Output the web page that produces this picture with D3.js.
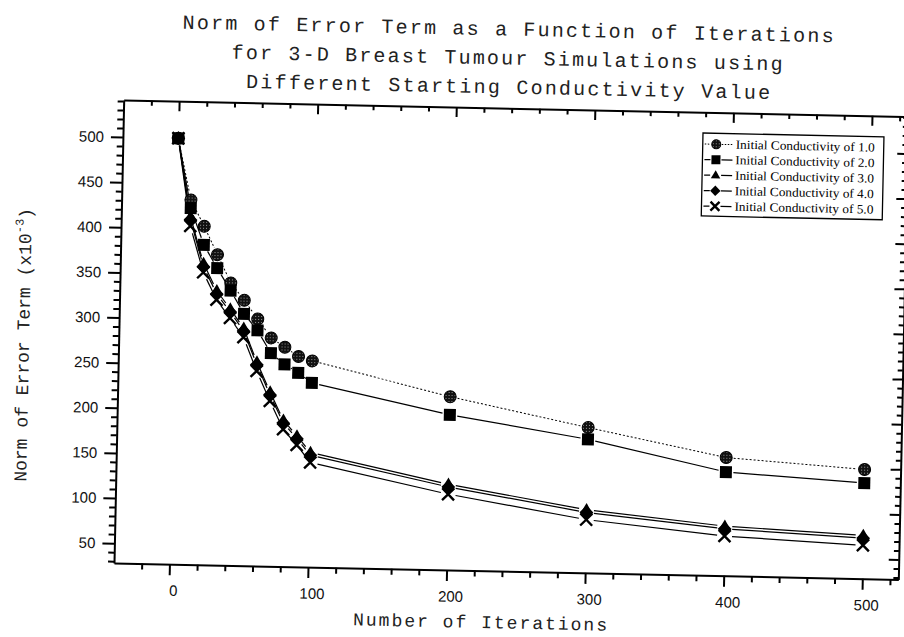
<!DOCTYPE html>
<html><head><meta charset="utf-8">
<script src="https://cdn.jsdelivr.net/npm/d3@7"></script>
<style>body{margin:0;background:#fff}svg{display:block}</style>
</head><body>
<svg id="c" width="904" height="637"></svg>
<script>
// ---------------- data ----------------
const iterations = [0, 10, 20, 30, 40, 50, 60, 70, 80, 90, 100, 200, 300, 400, 500];
const cond1 = [500, 432, 403, 372, 341, 322, 301.5, 281, 271, 261, 256.5, 220, 189, 159, 149];
const cond2 = [500, 423, 382.5, 357, 332.5, 307, 289, 264, 252, 243, 232, 200, 176, 143, 134];
const cond3 = [500, 413, 362, 332, 312, 291, 254, 221, 190, 173, 155, 123, 98, 83, 76];
const cond4 = [500, 410, 358.5, 328.5, 309, 288, 251, 218, 187, 170, 152, 120, 95, 80, 73];
const cond5 = [500, 403, 352, 322, 302, 281, 244, 211, 180, 163, 144, 112, 87, 72, 65];
const seriesNames = ["Initial Conductivity of 1.0", "Initial Conductivity of 2.0",
  "Initial Conductivity of 3.0", "Initial Conductivity of 4.0", "Initial Conductivity of 5.0"];
const seriesValues = [cond1, cond2, cond3, cond4, cond5];
const seriesSymbols = ["circle", "square", "triangle", "diamond", "cross"];
const xMajorTicks = [0, 100, 200, 300, 400, 500];
const yMajorTicks = [50, 100, 150, 200, 250, 300, 350, 400, 450, 500];
const titleLines = ["Norm of Error Term as a Function of Iterations",
  "for 3-D Breast Tumour Simulations using",
  "Different Starting Conductivity Value"];
const xTitle = "Number of Iterations";
const yTitleMain = "Norm of Error Term (x10";
const yTitleSup = "-3";
const yTitleEnd = ")";

// ---------------- layout ----------------
const P = {left: 114, right: 898.5, top: 100, bottom: 563};
const ANG = 1.2, RAD = ANG * Math.PI / 180;
const PIV = {x: P.left, y: P.bottom};
function inv(xr, yr) {
  const dx = xr - PIV.x, dy = yr - PIV.y;
  return [PIV.x + dx * Math.cos(RAD) + dy * Math.sin(RAD),
          PIV.y - dx * Math.sin(RAD) + dy * Math.cos(RAD)];
}

const svg = d3.select("#c");
const defs = svg.append("defs");
const pat = defs.append("pattern").attr("id", "dots").attr("width", 3).attr("height", 3)
  .attr("patternUnits", "userSpaceOnUse");
pat.append("rect").attr("width", 3).attr("height", 3).attr("fill", "#111");
pat.append("rect").attr("x", 1).attr("y", 1).attr("width", 1).attr("height", 1).attr("fill", "#999");

const g = svg.append("g").attr("transform", `rotate(${ANG},${PIV.x},${PIV.y})`);

const x = d3.scaleLinear().domain([-40, 526]).range([P.left, P.right]);
const y = d3.scaleLinear().domain([28, 541]).range([P.bottom, P.top]);

const xMinor = d3.range(-20, 526, 20).filter(v => v % 100 !== 0);
const yMinor = d3.range(30, 541, 10).filter(v => v % 50 !== 0);

function styleAxis(sel, w) {
  sel.selectAll("path.domain").attr("stroke", "#000").attr("stroke-width", 2);
  sel.selectAll(".tick line").attr("stroke", "#000").attr("stroke-width", w);
}

// bottom
const gb = g.append("g").attr("transform", `translate(0,${P.bottom})`)
  .call(d3.axisBottom(x).tickValues(xMajorTicks).tickSize(11).tickSizeOuter(0).tickPadding(10).tickFormat(d3.format("d")));
styleAxis(gb, 2);
gb.selectAll("text").attr("dx", 4).attr("font-family", "'Liberation Sans', Arial, sans-serif").attr("font-size", 15).attr("fill", "#111");
const gbm = g.append("g").attr("transform", `translate(0,${P.bottom})`)
  .call(d3.axisBottom(x).tickValues(xMinor).tickSize(6).tickSizeOuter(0).tickFormat(""));
gbm.select("path.domain").remove(); styleAxis(gbm, 2);

// top
const gt = g.append("g").attr("transform", `translate(0,${P.top})`)
  .call(d3.axisBottom(x).tickValues(xMajorTicks).tickSize(10).tickSizeOuter(0).tickFormat(""));
styleAxis(gt, 2);
const gtm = g.append("g").attr("transform", `translate(0,${P.top})`)
  .call(d3.axisBottom(x).tickValues(xMinor).tickSize(5).tickSizeOuter(0).tickFormat(""));
gtm.select("path.domain").remove(); styleAxis(gtm, 2);

// left
const gl = g.append("g").attr("transform", `translate(${P.left},0)`)
  .call(d3.axisLeft(y).tickValues(yMajorTicks).tickSize(12).tickSizeOuter(0).tickPadding(7).tickFormat(d3.format("d")));
styleAxis(gl, 2);
gl.selectAll("text").attr("font-family", "'Liberation Sans', Arial, sans-serif").attr("font-size", 15).attr("fill", "#111");
const glm = g.append("g").attr("transform", `translate(${P.left},0)`)
  .call(d3.axisLeft(y).tickValues(yMinor).tickSize(6).tickSizeOuter(0).tickFormat(""));
glm.select("path.domain").remove(); styleAxis(glm, 2);

// right
const gr = g.append("g").attr("transform", `translate(${P.right},0)`)
  .call(d3.axisLeft(y).tickValues(yMajorTicks).tickSize(10).tickSizeOuter(0).tickFormat(""));
styleAxis(gr, 2);
const grm = g.append("g").attr("transform", `translate(${P.right},0)`)
  .call(d3.axisLeft(y).tickValues(yMinor).tickSize(5).tickSizeOuter(0).tickFormat(""));
grm.select("path.domain").remove(); styleAxis(grm, 2);

// ---------------- markers ----------------
function drawMarker(sel, type, cx, cy, s) {
  const h = s / 2;
  if (type === "circle") {
    sel.append("circle").attr("cx", cx).attr("cy", cy).attr("r", h)
      .attr("fill", "url(#dots)").attr("stroke", "#000").attr("stroke-width", 1);
  } else if (type === "square") {
    sel.append("rect").attr("x", cx - h).attr("y", cy - h).attr("width", s).attr("height", s).attr("fill", "#000");
  } else if (type === "triangle") {
    const th = s * 0.9;
    sel.append("path").attr("d", `M${cx},${cy - th * 0.62}L${cx + h * 1.05},${cy + th * 0.38}L${cx - h * 1.05},${cy + th * 0.38}Z`).attr("fill", "#000");
  } else if (type === "diamond") {
    const d = h * 1.15;
    sel.append("path").attr("d", `M${cx},${cy - d}L${cx + d},${cy}L${cx},${cy + d}L${cx - d},${cy}Z`).attr("fill", "#000");
  } else if (type === "cross") {
    sel.append("path").attr("d", `M${cx - h},${cy - h}L${cx + h},${cy + h}M${cx + h},${cy - h}L${cx - h},${cy + h}`)
      .attr("stroke", "#000").attr("stroke-width", 2.4).attr("fill", "none");
  }
}

// ---------------- lines ----------------
const GAP = 7.5;
const linesG = g.append("g");
seriesValues.forEach((vals, si) => {
  const pts = iterations.map((it, i) => [x(it), y(vals[i])]);
  for (let i = 0; i < pts.length - 1; i++) {
    const [x1, y1] = pts[i], [x2, y2] = pts[i + 1];
    const L = Math.hypot(x2 - x1, y2 - y1);
    if (L <= 2 * GAP) continue;
    const ux = (x2 - x1) / L, uy = (y2 - y1) / L;
    linesG.append("line")
      .attr("x1", x1 + ux * GAP).attr("y1", y1 + uy * GAP)
      .attr("x2", x2 - ux * GAP).attr("y2", y2 - uy * GAP)
      .attr("stroke", "#000")
      .attr("stroke-width", si === 0 ? 1 : 1.2)
      .attr("stroke-dasharray", si === 0 ? "2,2" : null);
  }
});
const markG = g.append("g");
seriesValues.forEach((vals, si) => {
  iterations.forEach((it, i) => drawMarker(markG, seriesSymbols[si], x(it), y(vals[i]), 12));
});

// ---------------- legend ----------------
const [lx, ly] = inv(703, 133);
const lg = g.append("g").attr("transform", `translate(${lx},${ly})`);
lg.append("rect").attr("width", 181).attr("height", 83).attr("fill", "#fff").attr("stroke", "#000").attr("stroke-width", 1.3);
seriesNames.forEach((name, i) => {
  const ry = 11 + i * 15.5;
  [[2, 8], [19, 30]].forEach(([a, b]) => {
    lg.append("line").attr("x1", a).attr("x2", b).attr("y1", ry).attr("y2", ry)
      .attr("stroke", "#000").attr("stroke-width", i === 0 ? 1 : 1.2)
      .attr("stroke-dasharray", i === 0 ? "1.5,1.5" : null);
  });
  drawMarker(lg, seriesSymbols[i], 13.5, ry, 9);
  lg.append("text").attr("x", 33).attr("y", ry + 4).text(name)
    .attr("font-family", "'Liberation Serif', 'Times New Roman', serif").attr("font-size", 12.5)
    .attr("textLength", 139).attr("lengthAdjust", "spacingAndGlyphs").attr("fill", "#000");
});

// ---------------- titles ----------------
const mono = "'Liberation Mono', 'Courier New', monospace";
const titlePos = [[508, 35.5, 651], [507, 64.5, 551], [508, 93.5, 524]];
titleLines.forEach((t, i) => {
  const [tx, ty] = inv(titlePos[i][0], titlePos[i][1]);
  g.append("text").attr("x", tx).attr("y", ty).attr("text-anchor", "middle")
    .attr("font-family", mono).attr("font-size", 20).attr("fill", "#222")
    .attr("textLength", titlePos[i][2]).attr("lengthAdjust", "spacing").text(t);
});

const [xtx, xty] = inv(480, 628);
g.append("text").attr("x", xtx).attr("y", xty).attr("text-anchor", "middle")
  .attr("font-family", mono).attr("font-size", 18).attr("fill", "#222")
  .attr("textLength", 254).attr("lengthAdjust", "spacing").text(xTitle);

const [ytx, yty] = inv(29, 345);
const yt = g.append("text").attr("transform", `translate(${ytx},${yty}) rotate(-90)`)
  .attr("text-anchor", "middle").attr("font-family", mono).attr("font-size", 18).attr("fill", "#222");
yt.append("tspan").text(yTitleMain);
yt.append("tspan").attr("dy", -8).attr("font-size", 12).text(yTitleSup);
yt.append("tspan").attr("dy", 8).text(yTitleEnd);
</script>
</body></html>
